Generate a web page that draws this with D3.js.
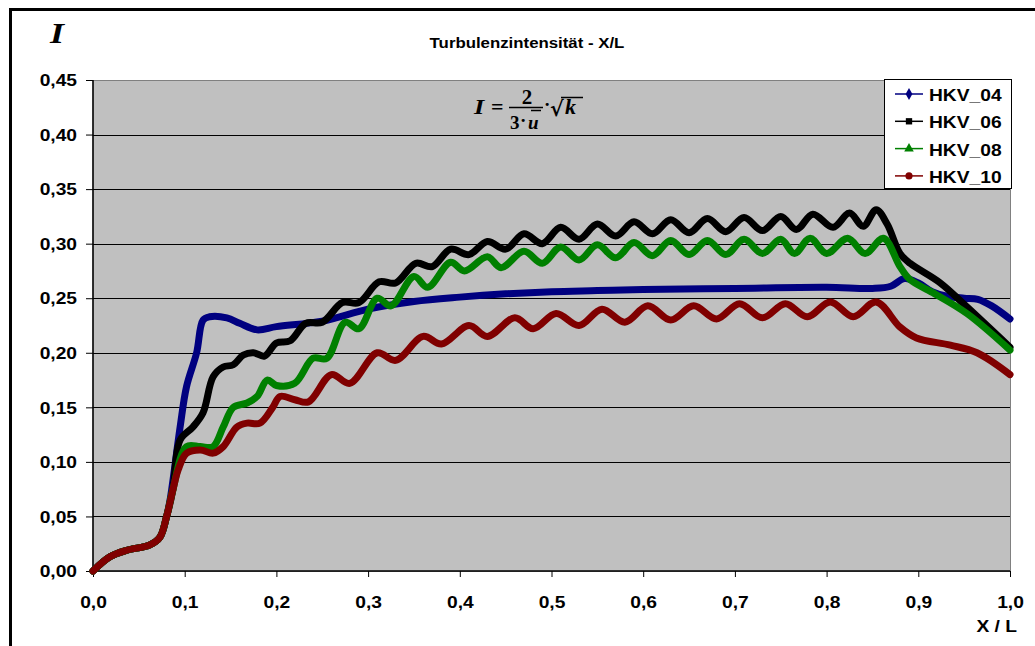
<!DOCTYPE html>
<html>
<head>
<meta charset="utf-8">
<script src="https://cdn.jsdelivr.net/npm/d3@7"></script>
<style>
body { margin: 0; background: #fff; }
text { font-family: "Liberation Sans", Arial, sans-serif; font-weight: bold; fill: #000; }
.serif { font-family: "Liberation Serif", "Times New Roman", serif; font-style: italic; }
</style>
</head>
<body>
<svg id="chart" width="1035" height="646"></svg>
<script>
var xTicks = [0, 0.1, 0.2, 0.3, 0.4, 0.5, 0.6, 0.7, 0.8, 0.9, 1.0];
var yTicks = [0, 0.05, 0.10, 0.15, 0.20, 0.25, 0.30, 0.35, 0.40, 0.45];
var seriesNames = ["HKV_04", "HKV_06", "HKV_08", "HKV_10"];
var seriesColors = ["#000080", "#000000", "#008000", "#800000"];
var seriesMarkers = ["diamond", "square", "triangle", "circle"];

// gemeinsamer Anlauf bis X/L = 0,08
var xStart = [0, 0.0185, 0.037, 0.062, 0.073, 0.08];
var yStart = [0, 0.013, 0.019, 0.024, 0.031, 0.049];

var x04 = [0.084, 0.095, 0.102, 0.113, 0.12, 0.127, 0.146, 0.16, 0.179, 0.2, 0.25, 0.3, 0.35, 0.4, 0.45, 0.5, 0.55, 0.6, 0.7, 0.8, 0.85, 0.87, 0.885, 0.9, 0.915, 0.93, 0.95, 0.965, 0.98, 1.0];
var y04 = [0.065, 0.132, 0.169, 0.2, 0.23, 0.233, 0.232, 0.227, 0.221, 0.224, 0.229, 0.240, 0.247, 0.251, 0.254, 0.256, 0.257, 0.258, 0.259, 0.260, 0.259, 0.261, 0.268, 0.264, 0.256, 0.252, 0.250, 0.249, 0.243, 0.231];

var x06 = [0.087, 0.095, 0.109, 0.12, 0.131, 0.142, 0.153, 0.164, 0.175, 0.187, 0.2, 0.215, 0.232, 0.25, 0.272, 0.29, 0.312, 0.33, 0.352, 0.37, 0.39, 0.41, 0.43, 0.45, 0.47, 0.49, 0.51, 0.53, 0.55, 0.57, 0.59, 0.61, 0.63, 0.65, 0.67, 0.69, 0.71, 0.73, 0.75, 0.767, 0.785, 0.807, 0.825, 0.84, 0.854, 0.866, 0.88, 0.891, 0.924, 0.953, 1.0];
var y06 = [0.074, 0.12, 0.132, 0.145, 0.178, 0.187, 0.189, 0.198, 0.2, 0.197, 0.209, 0.211, 0.227, 0.228, 0.246, 0.246, 0.265, 0.264, 0.282, 0.279, 0.295, 0.29, 0.302, 0.295, 0.309, 0.3, 0.315, 0.304, 0.318, 0.307, 0.32, 0.309, 0.322, 0.31, 0.323, 0.311, 0.324, 0.312, 0.325, 0.313, 0.327, 0.315, 0.328, 0.316, 0.331, 0.318, 0.291, 0.282, 0.264, 0.242, 0.205];

var x08 = [0.087, 0.102, 0.117, 0.131, 0.142, 0.153, 0.168, 0.179, 0.19, 0.2, 0.22, 0.24, 0.255, 0.275, 0.29, 0.31, 0.325, 0.35, 0.365, 0.39, 0.405, 0.43, 0.445, 0.47, 0.49, 0.51, 0.53, 0.55, 0.57, 0.59, 0.61, 0.63, 0.65, 0.67, 0.69, 0.71, 0.73, 0.75, 0.765, 0.782, 0.8, 0.823, 0.842, 0.862, 0.88, 0.891, 0.916, 0.953, 1.0];
var y08 = [0.074, 0.114, 0.114, 0.114, 0.132, 0.150, 0.154, 0.16, 0.175, 0.17, 0.172, 0.195, 0.195, 0.228, 0.222, 0.25, 0.243, 0.27, 0.26, 0.283, 0.275, 0.288, 0.278, 0.293, 0.282, 0.297, 0.285, 0.299, 0.287, 0.301, 0.289, 0.303, 0.29, 0.303, 0.29, 0.304, 0.291, 0.304, 0.291, 0.305, 0.291, 0.305, 0.291, 0.305, 0.279, 0.267, 0.255, 0.236, 0.2025];

var x10 = [0.087, 0.093, 0.102, 0.117, 0.131, 0.142, 0.157, 0.168, 0.182, 0.196, 0.204, 0.22, 0.235, 0.26, 0.28, 0.31, 0.33, 0.36, 0.38, 0.41, 0.43, 0.46, 0.48, 0.505, 0.53, 0.555, 0.58, 0.605, 0.63, 0.655, 0.68, 0.705, 0.73, 0.755, 0.779, 0.804, 0.829, 0.854, 0.88, 0.898, 0.935, 0.964, 1.0];
var y10 = [0.074, 0.093, 0.108, 0.111, 0.108, 0.114, 0.132, 0.1355, 0.1355, 0.150, 0.16, 0.157, 0.155, 0.18, 0.172, 0.2, 0.193, 0.215, 0.208, 0.225, 0.215, 0.232, 0.222, 0.236, 0.225, 0.24, 0.228, 0.243, 0.23, 0.243, 0.231, 0.245, 0.232, 0.245, 0.233, 0.2466, 0.233, 0.2466, 0.2236, 0.2136, 0.207, 0.2, 0.18];

var seriesX = [x04, x06, x08, x10];
var seriesY = [y04, y06, y08, y10];

var svg = d3.select("#chart");
var plotLeft = 93, plotRight = 1010, plotTop = 80, plotBottom = 571;
var stretchK = 1.2;

// Schrift etwas in die Breite ziehen wie im Original
function stretch(sel) {
	sel.each(function() {
		var w = this.getComputedTextLength();
		d3.select(this).attr("textLength", w * stretchK).attr("lengthAdjust", "spacingAndGlyphs");
	});
	return sel;
}

var x = d3.scaleLinear().domain([0, 1]).range([plotLeft, plotRight]);
var y = d3.scaleLinear().domain([0, 0.45]).range([plotBottom, plotTop]);

// Rahmen
svg.append("rect")
	.attr("x", 10.5).attr("y", 9.5)
	.attr("width", 1100).attr("height", 700)
	.attr("fill", "none").attr("stroke", "#000").attr("stroke-width", 3);

// Zeichenfläche
svg.append("rect")
	.attr("x", plotLeft).attr("y", plotTop + 0.5)
	.attr("width", plotRight - plotLeft + 0.5).attr("height", plotBottom - plotTop)
	.attr("fill", "#c0c0c0").attr("stroke", "#808080").attr("stroke-width", 1);

svg.append("g")
	.selectAll("line")
	.data(yTicks.filter(function(d) { return d > 0 && d < 0.45; }))
	.enter()
	.append("line")
	.attr("x1", plotLeft).attr("x2", plotRight)
	.attr("y1", function(d) { return Math.round(y(d)) + 0.5; })
	.attr("y2", function(d) { return Math.round(y(d)) + 0.5; })
	.attr("stroke", "#000").attr("stroke-width", 1);

// Achsen
var yAxis = svg.append("g")
	.attr("transform", "translate(" + plotLeft + ",0)")
	.call(d3.axisLeft(y).tickValues(yTicks).tickSize(7).tickPadding(9)
		.tickFormat(function(d) { return d3.format(".2f")(d).replace(".", ","); }));
var xAxis = svg.append("g")
	.attr("transform", "translate(0," + plotBottom + ")")
	.call(d3.axisBottom(x).tickValues(xTicks).tickSize(6).tickPadding(20)
		.tickFormat(function(d) { return d3.format(".1f")(d).replace(".", ","); }));

[yAxis, xAxis].forEach(function(ax) {
	ax.select(".domain").attr("stroke", "#000").attr("stroke-width", 1.5);
	ax.selectAll(".tick line").attr("stroke", "#000");
	ax.selectAll("text").style("font-size", "16px").attr("fill", "#000")
		.style("font-family", "'Liberation Sans', Arial, sans-serif").style("font-weight", "bold");
});
yAxis.select(".domain").attr("d", "M0," + plotTop + "V" + plotBottom);
xAxis.select(".domain").attr("d", "M" + plotLeft + ",0H" + plotRight);
stretch(yAxis.selectAll("text").attr("dy", "0.36em"));
stretch(xAxis.selectAll("text"));

// Kurven
var line = d3.line()
	.x(function(d) { return x(d[0]); })
	.y(function(d) { return y(d[1]); })
	.curve(d3.curveCatmullRom.alpha(0.5));

var plot = svg.append("g");
seriesNames.forEach(function(name, i) {
	var pts = xStart.map(function(v, j) { return [v, yStart[j]]; })
		.concat(seriesX[i].map(function(v, j) { return [v, seriesY[i][j]]; }));
	plot.append("path")
		.datum(pts)
		.attr("d", line)
		.attr("fill", "none")
		.attr("stroke", seriesColors[i])
		.attr("stroke-width", 7)
		.attr("stroke-linejoin", "round")
		.attr("stroke-linecap", "round");
});

// Legende
var legend = svg.append("g");
legend.append("rect")
	.attr("x", 884.5).attr("y", 79.5).attr("width", 127).attr("height", 109)
	.attr("fill", "#fff").attr("stroke", "#000");

var symbols = { diamond: d3.symbolDiamond, square: d3.symbolSquare, triangle: d3.symbolTriangle, circle: d3.symbolCircle };
var item = legend.selectAll(".item")
	.data(seriesNames)
	.enter()
	.append("g")
	.attr("transform", function(d, i) { return "translate(0," + (94 + 27.3 * i) + ")"; });
item.append("line")
	.attr("x1", 895).attr("x2", 923)
	.attr("stroke", function(d, i) { return seriesColors[i]; })
	.attr("stroke-width", 1.5);
item.append("path")
	.attr("transform", "translate(909,0)")
	.attr("d", function(d, i) { return d3.symbol().type(symbols[seriesMarkers[i]]).size(40)(); })
	.attr("fill", function(d, i) { return seriesColors[i]; });
stretch(item.append("text")
	.attr("x", 929).attr("y", 7)
	.style("font-size", "16px")
	.text(function(d) { return d; }));

// Titel
stretch(svg.append("text")
	.attr("x", 527).attr("y", 48)
	.attr("text-anchor", "middle")
	.style("font-size", "14px")
	.text("Turbulenzintensität - X/L"));

// Achsentitel
stretch(svg.append("text")
	.attr("x", 1017).attr("y", 632)
	.attr("text-anchor", "end")
	.style("font-size", "16px")
	.text("X / L"));

stretch(svg.append("text")
	.attr("class", "serif")
	.attr("x", 50).attr("y", 43)
	.style("font-size", "30px")
	.text("I"));

// Formel I = 2/(3·u) · √k
var f = svg.append("g");
stretch(f.append("text").attr("class", "serif").attr("x", 474).attr("y", 114).style("font-size", "22px").text("I"));
f.append("text").attr("x", 491).attr("y", 114).style("font-size", "22px").style("font-family", "'Liberation Serif', serif").text("=");
f.append("line").attr("x1", 509).attr("x2", 543).attr("y1", 107.5).attr("y2", 107.5).attr("stroke", "#000").attr("stroke-width", 1.5);
f.append("text").attr("x", 527).attr("y", 104).attr("text-anchor", "middle").style("font-size", "21px").style("font-family", "'Liberation Serif', serif").text("2");
f.append("text").attr("x", 510).attr("y", 129).style("font-size", "19px").style("font-family", "'Liberation Serif', serif").text("3");
f.append("text").attr("x", 520).attr("y", 127).style("font-size", "19px").style("font-family", "'Liberation Serif', serif").text("·");
f.append("text").attr("class", "serif").attr("x", 528).attr("y", 129).style("font-size", "19px").text("u");
f.append("line").attr("x1", 531).attr("x2", 541).attr("y1", 110.5).attr("y2", 110.5).attr("stroke", "#000").attr("stroke-width", 1.5);
f.append("text").attr("x", 544).attr("y", 111).style("font-size", "19px").style("font-family", "'Liberation Serif', serif").text("·");
f.append("text").attr("x", 550).attr("y", 116).style("font-size", "21px").style("font-family", "'DejaVu Serif', serif").text("√");
f.append("line").attr("x1", 561).attr("x2", 583).attr("y1", 97.5).attr("y2", 97.5).attr("stroke", "#000").attr("stroke-width", 1.5);
f.append("text").attr("class", "serif").attr("x", 565).attr("y", 114).style("font-size", "22px").text("k");
</script>
</body>
</html>
